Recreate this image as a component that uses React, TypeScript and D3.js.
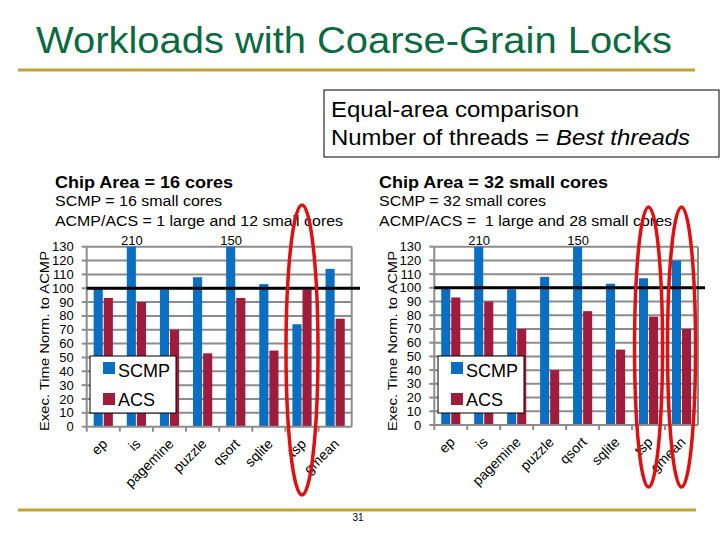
import React from "react";
import * as d3 from "d3";

const categories = ["ep", "is", "pagemine", "puzzle", "qsort", "sqlite", "tsp", "gmean"];
const yTicks = [0, 10, 20, 30, 40, 50, 60, 70, 80, 90, 100, 110, 120, 130];

const scmp16 = [100, 210, 99, 108, 150, 103, 74, 114];
const acs16 = [93, 90, 70, 53, 93, 55, 99, 78];
const scmp32 = [100, 210, 99, 108, 150, 103, 107, 120];
const acs32 = [93, 90, 70, 40, 83, 55, 79, 70];

const circled16 = ["tsp"];
const circled32 = ["tsp", "gmean"];

const BLUE = "#0a6fc2";
const RED = "#a01c3c";
const GRID = "#8c8c8c";
const FONT = "'Liberation Sans', Arial, sans-serif";

type ChartProps = {
  x0: number; x1: number; yBottom: number; yTop: number; lineEnd: number;
  scmp: number[]; acs: number[]; circled: string[];
  legendX: number; ellipseCy: number; ellipseRy: number; ellipseRx: number;
  ylabelX: number;
};

function Chart(p: ChartProps) {
  const x = d3.scaleBand<string>().domain(categories).range([p.x0, p.x1]).padding(0);
  const y = d3.scaleLinear().domain([0, 130]).range([p.yBottom, p.yTop]).clamp(true);
  const bw = x.bandwidth();
  const barW = bw * 0.275;
  const gap = 1;
  return (
    <g fontFamily={FONT}>
      {yTicks.filter((t) => t > 0).map((t) => (
        <line key={"g" + t} x1={p.x0} x2={p.x1} y1={y(t)} y2={y(t)} stroke={GRID} strokeWidth={2} />
      ))}
      {categories.map((c, i) => {
        const cx = (x(c) as number) + bw / 2;
        return (
          <g key={c}>
            <rect x={cx - barW - gap / 2} y={y(p.scmp[i])} width={barW} height={p.yBottom - y(p.scmp[i])} fill={BLUE} />
            <rect x={cx + gap / 2} y={y(p.acs[i])} width={barW} height={p.yBottom - y(p.acs[i])} fill={RED} />
            {p.scmp[i] > 130 && (
              <text x={cx - barW / 2} y={p.yTop - 2} fontSize={13} textAnchor="middle" fill="#000">{p.scmp[i]}</text>
            )}
          </g>
        );
      })}
      {/* axes */}
      <line x1={p.x0} x2={p.x0} y1={p.yTop} y2={p.yBottom} stroke={GRID} strokeWidth={2} />
      <line x1={p.x1} x2={p.x1} y1={p.yTop} y2={p.yBottom} stroke={GRID} strokeWidth={2} />
      <line x1={p.x0} x2={p.x1} y1={p.yBottom} y2={p.yBottom} stroke={GRID} strokeWidth={2} />
      {yTicks.map((t) => (
        <g key={"t" + t}>
          <line x1={p.x0 - 5} x2={p.x0} y1={y(t)} y2={y(t)} stroke={GRID} strokeWidth={2} />
          <text x={p.x0 - 13} y={y(t) + 4.5} fontSize={13} textAnchor="end" fill="#000">{t}</text>
        </g>
      ))}
      {categories.map((c) => (
        <line key={"xt" + c} x1={x(c) as number} x2={x(c) as number} y1={p.yBottom} y2={p.yBottom + 5} stroke={GRID} strokeWidth={2} />
      ))}
      {categories.map((c) => {
        const px = (x(c) as number) + bw / 2 + 5;
        const py = p.yBottom + 18;
        return (
          <text key={"xl" + c} x={px} y={py} fontSize={14} textAnchor="end"
            transform={`rotate(-45 ${px} ${py})`} fill="#000">{c}</text>
        );
      })}
      {/* 100 line */}
      <line x1={p.x0} x2={p.lineEnd} y1={y(100)} y2={y(100)} stroke="#000" strokeWidth={3} />
      {/* legend */}
      <rect x={p.legendX} y={356} width={86} height={57} fill="#fff" stroke="#000" strokeWidth={1} />
      <rect x={p.legendX + 13} y={362} width={12} height={12} fill={BLUE} />
      <text x={p.legendX + 28} y={377} fontSize={18} fill="#000">SCMP</text>
      <rect x={p.legendX + 13} y={393} width={12} height={12} fill={RED} />
      <text x={p.legendX + 28} y={406} fontSize={18} fill="#000">ACS</text>
      {/* y label */}
      <text x={p.ylabelX} y={341} fontSize={13} textAnchor="middle" fill="#000" textLength={180} lengthAdjust="spacingAndGlyphs"
        transform={`rotate(-90 ${p.ylabelX} 341)`}>Exec. Time Norm. to ACMP</text>
      {/* circles */}
      {p.circled.map((c) => (
        <ellipse key={"e" + c} cx={(x(c) as number) + bw / 2} cy={p.ellipseCy} rx={p.ellipseRx} ry={p.ellipseRy}
          fill="none" stroke="#e01010" strokeWidth={3.5} />
      ))}
    </g>
  );
}

export default function App() {
  return (
    <svg width={720} height={540} style={{ position: "absolute", left: 0, top: 0, background: "#fff" }}>
      <rect x={0} y={0} width={720} height={540} fill="#fff" />
      <text x={36} y={53} fontSize={36} fontFamily={FONT} fill="#0b6a3f" textLength={636} lengthAdjust="spacingAndGlyphs">
        Workloads with Coarse-Grain Locks
      </text>
      <line x1={18} x2={695} y1={70} y2={70} stroke="#c2a53a" strokeWidth={3} />
      <line x1={18} x2={696} y1={510} y2={510} stroke="#c2a53a" strokeWidth={3} />
      <text x={358} y={521} fontSize={10} fontFamily={FONT} textAnchor="middle" fill="#000">31</text>

      <rect x={324} y={90} width={395} height={67} fill="#fff" stroke="#000" strokeWidth={1} />
      <text x={331} y={117} fontSize={22} fontFamily={FONT} fill="#000" textLength={248} lengthAdjust="spacingAndGlyphs">Equal-area comparison</text>
      <text x={331} y={145} fontSize={22} fontFamily={FONT} fill="#000" textLength={359} lengthAdjust="spacingAndGlyphs">
        Number of threads = <tspan fontStyle="italic">Best threads</tspan>
      </text>

      <text x={55} y={188} fontSize={16} fontWeight="bold" fontFamily={FONT} fill="#000" textLength={178} lengthAdjust="spacingAndGlyphs">Chip Area = 16 cores</text>
      <text x={55} y={206} fontSize={14} fontFamily={FONT} fill="#000" textLength={167} lengthAdjust="spacingAndGlyphs">SCMP = 16 small cores</text>
      <text x={55} y={226} fontSize={14} fontFamily={FONT} fill="#000" textLength={288} lengthAdjust="spacingAndGlyphs">ACMP/ACS = 1 large and 12 small cores</text>

      <text x={379} y={188} fontSize={16} fontWeight="bold" fontFamily={FONT} fill="#000" textLength={229} lengthAdjust="spacingAndGlyphs">Chip Area = 32 small cores</text>
      <text x={379} y={206} fontSize={14} fontFamily={FONT} fill="#000" textLength={167} lengthAdjust="spacingAndGlyphs">SCMP = 32 small cores</text>
      <text x={379} y={226} fontSize={14} fontFamily={FONT} fill="#000" textLength={293} lengthAdjust="spacingAndGlyphs" xmlSpace="preserve">ACMP/ACS =  1 large and 28 small cores</text>

      <Chart x0={86.7} x1={351.7} yBottom={426.7} yTop={246.7} lineEnd={360}
        scmp={scmp16} acs={acs16} circled={circled16} legendX={90}
        ellipseCy={350} ellipseRy={145} ellipseRx={16} ylabelX={49} />
      <Chart x0={434.3} x1={698} yBottom={425} yTop={246.7} lineEnd={705}
        scmp={scmp32} acs={acs32} circled={circled32} legendX={438}
        ellipseCy={347} ellipseRy={140} ellipseRx={14} ylabelX={397} />
    </svg>
  );
}
